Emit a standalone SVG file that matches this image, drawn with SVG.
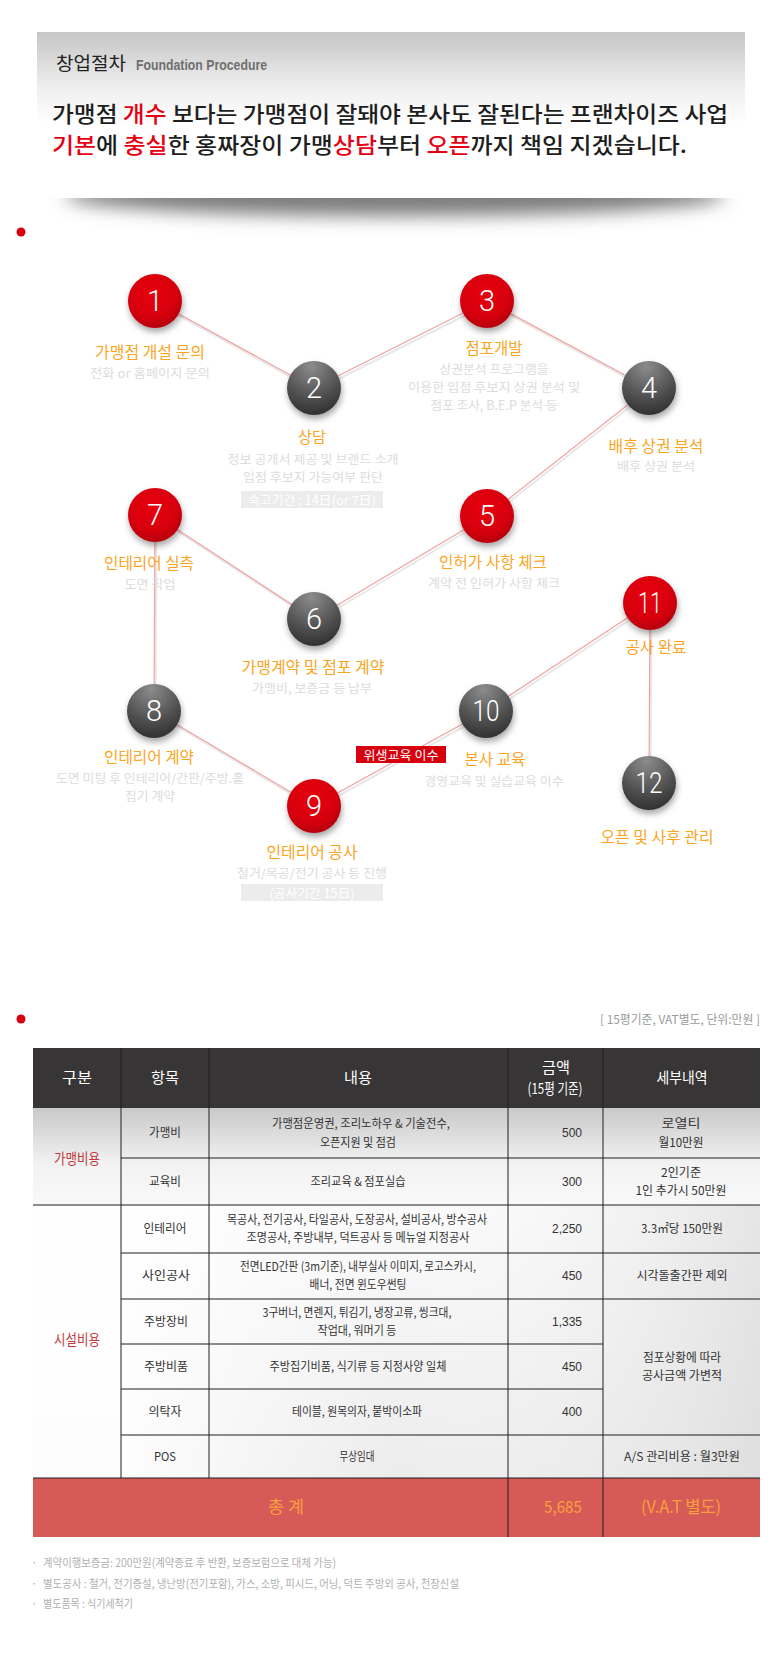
<svg xmlns="http://www.w3.org/2000/svg" width="779" height="1672" viewBox="0 0 779 1672">
<style>
text{font-family:"Noto Sans CJK KR","Noto Sans",sans-serif}
.lab{fill:#fba51f;font-size:16px;text-anchor:middle}
.sub{fill:#dcdcdc;font-size:12.5px;text-anchor:middle}
.num{fill:#fff;font-family:Roboto,"Liberation Sans",Arial,sans-serif;font-weight:300;font-size:29px;text-anchor:middle}
.conn{stroke:#f0a2a2;stroke-width:1.2;fill:none}
.connsh{stroke:#e8e8e8;stroke-width:2;fill:none}
.gbox{fill:#ececec}
.gboxt{fill:#fff;font-size:12.5px;text-anchor:middle}
.th{fill:#fff;font-size:15px;text-anchor:middle}
.td{fill:#333;font-size:12px;text-anchor:middle}
.tn{fill:#333;font-size:12px;text-anchor:end;font-family:"Liberation Sans",Arial,sans-serif}
.sec{fill:#c0393b;font-size:15px;text-anchor:middle}
.grid{stroke:#1e1e1e;stroke-width:1;fill:none}
.tot{fill:#f7a03c;font-size:17px;text-anchor:middle}
.note{fill:#b0b0b0;font-size:11.5px}
.red{fill:#e60012}
</style>
<defs>
<linearGradient id="card" x1="0" y1="0" x2="0" y2="1">
<stop offset="0" stop-color="#c6c6c6"/>
<stop offset="0.35" stop-color="#f0f0f0"/>
<stop offset="0.55" stop-color="#ffffff"/>
<stop offset="1" stop-color="#ffffff"/>
</linearGradient>
<radialGradient id="red" cx="0.45" cy="0.35" r="0.65">
<stop offset="0" stop-color="#e8000f"/>
<stop offset="0.7" stop-color="#d6000c"/>
<stop offset="1" stop-color="#b5000a"/>
</radialGradient>
<radialGradient id="gray" cx="0.45" cy="0.1" r="0.95">
<stop offset="0" stop-color="#8c8c8c"/>
<stop offset="0.55" stop-color="#555555"/>
<stop offset="1" stop-color="#2c2c2c"/>
</radialGradient>
<linearGradient id="body" x1="0" y1="1108" x2="0" y2="1478" gradientUnits="userSpaceOnUse">
<stop offset="0" stop-color="#c9c9c9"/>
<stop offset="0.15" stop-color="#f2f2f2"/>
<stop offset="0.28" stop-color="#fafafa"/>
<stop offset="1" stop-color="#ececec"/>
</linearGradient>
<linearGradient id="bodyx" x1="33" y1="0" x2="760" y2="0" gradientUnits="userSpaceOnUse">
<stop offset="0" stop-color="#ffffff" stop-opacity="0.9"/>
<stop offset="0.12" stop-color="#ffffff" stop-opacity="0.9"/>
<stop offset="0.5" stop-color="#ffffff" stop-opacity="0"/>
<stop offset="1" stop-color="#d4d4d4" stop-opacity="0.55"/>
</linearGradient>
<filter id="ds" x="-40%" y="-40%" width="180%" height="190%">
<feDropShadow dx="1" dy="4" stdDeviation="3" flood-color="#000" flood-opacity="0.35"/>
</filter>
<filter id="blur" x="-10%" y="-150%" width="120%" height="400%">
<feGaussianBlur stdDeviation="9"/>
</filter>
</defs>

<rect width="779" height="1672" fill="#fff"/>

<!-- header card -->
<g id="header">
<ellipse cx="395" cy="196" rx="330" ry="20" fill="#7d7d7d" filter="url(#blur)"/>
<rect x="37" y="32" width="708" height="166" fill="url(#card)"/>
<text x="56" y="70" font-size="18" fill="#222" textLength="70" lengthAdjust="spacingAndGlyphs">창업절차</text>
<text x="136" y="70" font-size="14" font-weight="bold" fill="#6f6f6f" style="font-family:'Liberation Sans',Arial,sans-serif" textLength="131" lengthAdjust="spacingAndGlyphs">Foundation Procedure</text>
<text transform="translate(52,122) scale(1.08,1)" x="0" y="0" font-size="22" font-weight="500" fill="#1e1e1e">가맹점 <tspan class="red">개수</tspan> 보다는 가맹점이 잘돼야 본사도 잘된다는 프랜차이즈 사업</text>
<text transform="translate(52,153) scale(1.09,1)" x="0" y="0" font-size="22" font-weight="500" fill="#1e1e1e"><tspan class="red">기본</tspan>에 <tspan class="red">충실</tspan>한 홍짜장이 가맹<tspan class="red">상담</tspan>부터 <tspan class="red">오픈</tspan>까지 책임 지겠습니다.</text>
</g>

<circle cx="21" cy="232" r="4.5" fill="#d7000f"/>

<!-- connectors -->
<g id="connectors">
<g transform="translate(1.5,2.5)" class="connsh">
<line x1="155" y1="301" x2="314" y2="388"/>
<line x1="314" y1="388" x2="487" y2="301"/>
<line x1="487" y1="301" x2="649" y2="388"/>
<line x1="649" y1="388" x2="487" y2="516"/>
<line x1="487" y1="516" x2="314" y2="619"/>
<line x1="314" y1="619" x2="155" y2="515"/>
<line x1="155" y1="515" x2="154" y2="711"/>
<line x1="154" y1="711" x2="314" y2="806"/>
<line x1="314" y1="806" x2="486" y2="711"/>
<line x1="486" y1="711" x2="650" y2="603"/>
<line x1="650" y1="603" x2="649" y2="783"/>
</g>
<g class="conn">
<line x1="155" y1="301" x2="314" y2="388"/>
<line x1="314" y1="388" x2="487" y2="301"/>
<line x1="487" y1="301" x2="649" y2="388"/>
<line x1="649" y1="388" x2="487" y2="516"/>
<line x1="487" y1="516" x2="314" y2="619"/>
<line x1="314" y1="619" x2="155" y2="515"/>
<line x1="155" y1="515" x2="154" y2="711"/>
<line x1="154" y1="711" x2="314" y2="806"/>
<line x1="314" y1="806" x2="486" y2="711"/>
<line x1="486" y1="711" x2="650" y2="603"/>
<line x1="650" y1="603" x2="649" y2="783"/>
</g>
</g>

<!-- nodes -->
<g id="node1">
<circle cx="155" cy="301" r="27" fill="url(#red)" filter="url(#ds)"/>
<text class="num" x="155" y="311">1</text>
<text class="lab" x="150" y="358" textLength="110" lengthAdjust="spacingAndGlyphs">가맹점 개설 문의</text>
<text class="sub" x="150" y="378" textLength="120" lengthAdjust="spacingAndGlyphs">전화  or 홈페이지 문의</text>
</g>
<g id="node2">
<circle cx="314" cy="388" r="27" fill="url(#gray)" filter="url(#ds)"/>
<text class="num" x="314" y="398">2</text>
<text class="lab" x="312" y="443" textLength="28" lengthAdjust="spacingAndGlyphs">상담</text>
<text class="sub" x="313" y="464" textLength="171" lengthAdjust="spacingAndGlyphs">정보 공개서 제공 및 브랜드 소개</text>
<text class="sub" x="313" y="482" textLength="140" lengthAdjust="spacingAndGlyphs">입점 후보지 가능여부 판단</text>
<rect class="gbox" x="241" y="491" width="142" height="17"/>
<text class="gboxt" x="312" y="505" textLength="128" lengthAdjust="spacingAndGlyphs">숙고기간 : 14日(or 7日)</text>
</g>
<g id="node3">
<circle cx="487" cy="301" r="27" fill="url(#red)" filter="url(#ds)"/>
<text class="num" x="487" y="311">3</text>
<text class="lab" x="494" y="354" textLength="57" lengthAdjust="spacingAndGlyphs">점포개발</text>
<text class="sub" x="494" y="374" textLength="109" lengthAdjust="spacingAndGlyphs">상권분석 프로그램을</text>
<text class="sub" x="494" y="392" textLength="172" lengthAdjust="spacingAndGlyphs">이용한 입점 후보지 상권 분석 및</text>
<text class="sub" x="494" y="410" textLength="127" lengthAdjust="spacingAndGlyphs">점포 조사, B.E.P 분석 등</text>
</g>
<g id="node4">
<circle cx="649" cy="388" r="27" fill="url(#gray)" filter="url(#ds)"/>
<text class="num" x="649" y="398">4</text>
<text class="lab" x="656" y="452" textLength="95" lengthAdjust="spacingAndGlyphs">배후 상권 분석</text>
<text class="sub" x="656" y="471" textLength="78" lengthAdjust="spacingAndGlyphs">배후 상권 분석</text>
</g>
<g id="node5">
<circle cx="487" cy="516" r="27" fill="url(#red)" filter="url(#ds)"/>
<text class="num" x="487" y="526">5</text>
<text class="lab" x="493" y="568" textLength="108" lengthAdjust="spacingAndGlyphs">인허가 사항 체크</text>
<text class="sub" x="494" y="588" textLength="132" lengthAdjust="spacingAndGlyphs">계약 전 인허가 사항 체크</text>
</g>
<g id="node6">
<circle cx="314" cy="619" r="27" fill="url(#gray)" filter="url(#ds)"/>
<text class="num" x="314" y="629">6</text>
<text class="lab" x="313" y="673" textLength="143" lengthAdjust="spacingAndGlyphs">가맹계약 및 점포 계약</text>
<text class="sub" x="312" y="693" textLength="120" lengthAdjust="spacingAndGlyphs">가맹비, 보증금 등 납부</text>
</g>
<g id="node7">
<circle cx="155" cy="515" r="27" fill="url(#red)" filter="url(#ds)"/>
<text class="num" x="155" y="525">7</text>
<text class="lab" x="149" y="569" textLength="90" lengthAdjust="spacingAndGlyphs">인테리어 실측</text>
<text class="sub" x="150" y="589" textLength="51" lengthAdjust="spacingAndGlyphs">도면 작업</text>
</g>
<g id="node8">
<circle cx="154" cy="711" r="27" fill="url(#gray)" filter="url(#ds)"/>
<text class="num" x="154" y="721">8</text>
<text class="lab" x="149" y="763" textLength="90" lengthAdjust="spacingAndGlyphs">인테리어 계약</text>
<text class="sub" x="150" y="783" textLength="188" lengthAdjust="spacingAndGlyphs">도면 미팅 후 인테리어/간판/주방.홀</text>
<text class="sub" x="150" y="801" textLength="50" lengthAdjust="spacingAndGlyphs">집기 계약</text>
</g>
<g id="node9">
<circle cx="314" cy="806" r="27" fill="url(#red)" filter="url(#ds)"/>
<text class="num" x="314" y="816">9</text>
<text class="lab" x="312" y="858" textLength="91" lengthAdjust="spacingAndGlyphs">인테리어 공사</text>
<text class="sub" x="312" y="878" textLength="150" lengthAdjust="spacingAndGlyphs">철거/목공/전기 공사 등 진행</text>
<rect class="gbox" x="241" y="884" width="142" height="17"/>
<text class="gboxt" x="312" y="898" textLength="85" lengthAdjust="spacingAndGlyphs">(공사기간 15日)</text>
</g>
<g id="node10">
<circle cx="486" cy="711" r="27" fill="url(#gray)" filter="url(#ds)"/>
<text class="num" x="486" y="721" textLength="27" lengthAdjust="spacingAndGlyphs">10</text>
<text class="lab" x="495" y="765" textLength="61" lengthAdjust="spacingAndGlyphs">본사 교육</text>
<text class="sub" x="494" y="786" textLength="139" lengthAdjust="spacingAndGlyphs">경영교육 및 실습교육 이수</text>
<rect x="356" y="746" width="90" height="17" fill="#d7000f"/>
<text x="401" y="760" font-size="12.5" fill="#fff" text-anchor="middle" textLength="75" lengthAdjust="spacingAndGlyphs">위생교육 이수</text>
</g>
<g id="node11">
<circle cx="650" cy="603" r="27" fill="url(#red)" filter="url(#ds)"/>
<text class="num" x="650" y="613" textLength="24" lengthAdjust="spacingAndGlyphs">11</text>
<text class="lab" x="656" y="653" textLength="61" lengthAdjust="spacingAndGlyphs">공사 완료</text>
</g>
<g id="node12">
<circle cx="649" cy="783" r="27" fill="url(#gray)" filter="url(#ds)"/>
<text class="num" x="649" y="793" textLength="27" lengthAdjust="spacingAndGlyphs">12</text>
<text class="lab" x="657" y="843" textLength="113" lengthAdjust="spacingAndGlyphs">오픈 및 사후 관리</text>
</g>

<!-- table -->
<circle cx="21" cy="1019" r="4.5" fill="#d7000f"/>
<text x="760" y="1024" font-size="12" fill="#9a9a9a" text-anchor="end" textLength="160" lengthAdjust="spacingAndGlyphs">[ 15평기준, VAT별도, 단위:만원 ]</text>

<g id="table">
<rect x="33" y="1048" width="727" height="60" fill="#373535"/>
<rect x="33" y="1108" width="727" height="370" fill="url(#body)"/>
<rect x="33" y="1205" width="727" height="273" fill="url(#bodyx)"/>
<rect x="33" y="1478" width="727" height="59" fill="#d65a57"/>

<g class="grid">
<line x1="121" y1="1048" x2="121" y2="1478"/>
<line x1="209" y1="1048" x2="209" y2="1478"/>
<line x1="508" y1="1048" x2="508" y2="1537"/>
<line x1="603" y1="1048" x2="603" y2="1537"/>
<line x1="121" y1="1158" x2="760" y2="1158"/>
<line x1="33" y1="1205" x2="760" y2="1205"/>
<line x1="121" y1="1253" x2="760" y2="1253"/>
<line x1="121" y1="1299" x2="760" y2="1299"/>
<line x1="121" y1="1344" x2="603" y2="1344"/>
<line x1="121" y1="1389" x2="603" y2="1389"/>
<line x1="121" y1="1435" x2="760" y2="1435"/>
<line x1="33" y1="1478" x2="760" y2="1478"/>
</g>

<text class="th" x="77" y="1083" textLength="30" lengthAdjust="spacingAndGlyphs">구분</text>
<text class="th" x="165" y="1083" textLength="28" lengthAdjust="spacingAndGlyphs">항목</text>
<text class="th" x="358" y="1083" textLength="28" lengthAdjust="spacingAndGlyphs">내용</text>
<text class="th" x="556" y="1073" textLength="28" lengthAdjust="spacingAndGlyphs">금액</text>
<text class="th" x="555" y="1094" font-size="13" textLength="55" lengthAdjust="spacingAndGlyphs">(15평 기준)</text>
<text class="th" x="682" y="1083" textLength="51" lengthAdjust="spacingAndGlyphs">세부내역</text>

<text class="sec" x="77" y="1164" textLength="46" lengthAdjust="spacingAndGlyphs">가맹비용</text>
<text class="sec" x="77" y="1345" textLength="46" lengthAdjust="spacingAndGlyphs">시설비용</text>

<text class="td" x="165" y="1137" textLength="32" lengthAdjust="spacingAndGlyphs">가맹비</text>
<text class="td" x="361" y="1128" textLength="178" lengthAdjust="spacingAndGlyphs">가맹점운영권, 조리노하우 &amp; 기술전수,</text>
<text class="td" x="358" y="1147" textLength="76" lengthAdjust="spacingAndGlyphs">오픈지원 및 점검</text>
<text class="tn" x="582" y="1137">500</text>
<text class="td" x="681" y="1128" textLength="39" lengthAdjust="spacingAndGlyphs">로열티</text>
<text class="td" x="681" y="1147" textLength="45" lengthAdjust="spacingAndGlyphs">월10만원</text>

<text class="td" x="165" y="1186" textLength="32" lengthAdjust="spacingAndGlyphs">교육비</text>
<text class="td" x="358" y="1186" textLength="95" lengthAdjust="spacingAndGlyphs">조리교육 &amp; 점포실습</text>
<text class="tn" x="582" y="1186">300</text>
<text class="td" x="681" y="1177" textLength="40" lengthAdjust="spacingAndGlyphs">2인기준</text>
<text class="td" x="681" y="1195" textLength="91" lengthAdjust="spacingAndGlyphs">1인 추가시 50만원</text>

<text class="td" x="165" y="1233" textLength="43" lengthAdjust="spacingAndGlyphs">인테리어</text>
<text class="td" x="357" y="1224" textLength="260" lengthAdjust="spacingAndGlyphs">목공사, 전기공사, 타일공사, 도장공사, 설비공사, 방수공사</text>
<text class="td" x="358" y="1242" textLength="223" lengthAdjust="spacingAndGlyphs">조명공사, 주방내부, 덕트공사 등 메뉴얼 지정공사</text>
<text class="tn" x="582" y="1233">2,250</text>
<text class="td" x="682" y="1233" textLength="82" lengthAdjust="spacingAndGlyphs">3.3㎡당 150만원</text>

<text class="td" x="166" y="1280" textLength="48" lengthAdjust="spacingAndGlyphs">사인공사</text>
<text class="td" x="358" y="1271" textLength="236" lengthAdjust="spacingAndGlyphs">전면LED간판 (3m기준), 내부실사 이미지, 로고스카시,</text>
<text class="td" x="358" y="1289" textLength="97" lengthAdjust="spacingAndGlyphs">배너, 전면 윈도우썬팅</text>
<text class="tn" x="582" y="1280">450</text>
<text class="td" x="682" y="1280" textLength="91" lengthAdjust="spacingAndGlyphs">시각돌출간판 제외</text>

<text class="td" x="166" y="1326" textLength="44" lengthAdjust="spacingAndGlyphs">주방장비</text>
<text class="td" x="357" y="1317" textLength="189" lengthAdjust="spacingAndGlyphs">3구버너, 면렌지, 튀김기, 냉장고류, 씽크대,</text>
<text class="td" x="357" y="1335" textLength="79" lengthAdjust="spacingAndGlyphs">작업대, 워머기 등</text>
<text class="tn" x="582" y="1326">1,335</text>

<text class="td" x="166" y="1371" textLength="44" lengthAdjust="spacingAndGlyphs">주방비품</text>
<text class="td" x="358" y="1371" textLength="177" lengthAdjust="spacingAndGlyphs">주방집기비품, 식기류 등 지정사양 일체</text>
<text class="tn" x="582" y="1371">450</text>

<text class="td" x="682" y="1362" textLength="78" lengthAdjust="spacingAndGlyphs">점포상황에 따라</text>
<text class="td" x="682" y="1380" textLength="80" lengthAdjust="spacingAndGlyphs">공사금액 가변적</text>

<text class="td" x="165" y="1416" textLength="33" lengthAdjust="spacingAndGlyphs">의탁자</text>
<text class="td" x="357" y="1416" textLength="130" lengthAdjust="spacingAndGlyphs">테이블, 원목의자, 붙박이소파</text>
<text class="tn" x="582" y="1416">400</text>

<text class="td" x="165" y="1461" textLength="22" lengthAdjust="spacingAndGlyphs">POS</text>
<text class="td" x="357" y="1461" textLength="35" lengthAdjust="spacingAndGlyphs">무상임대</text>
<text class="td" x="682" y="1461" textLength="116" lengthAdjust="spacingAndGlyphs">A/S 관리비용 : 월3만원</text>

<text class="tot" x="286" y="1513" textLength="36" lengthAdjust="spacingAndGlyphs">총 계</text>
<text class="tot" x="582" y="1513" style="text-anchor:end" textLength="38" lengthAdjust="spacingAndGlyphs">5,685</text>
<text class="tot" x="681" y="1513" textLength="80" lengthAdjust="spacingAndGlyphs">(V.A.T 별도)</text>
</g>

<g id="notes">
<text class="note" x="31" y="1567">·</text>
<text class="note" x="43" y="1567" textLength="293" lengthAdjust="spacingAndGlyphs">계약이행보증금: 200만원(계약종료 후 반환, 보증보험으로 대체 가능)</text>
<text class="note" x="31" y="1588">·</text>
<text class="note" x="43" y="1588" textLength="416" lengthAdjust="spacingAndGlyphs">별도공사 : 철거, 전기증설, 냉난방(전기포함), 가스, 소방, 피시드, 어닝, 덕트 주방외 공사, 천장신설</text>
<text class="note" x="31" y="1608">·</text>
<text class="note" x="43" y="1608" textLength="90" lengthAdjust="spacingAndGlyphs">별도품목 : 식기세척기</text>
</g>
</svg>
